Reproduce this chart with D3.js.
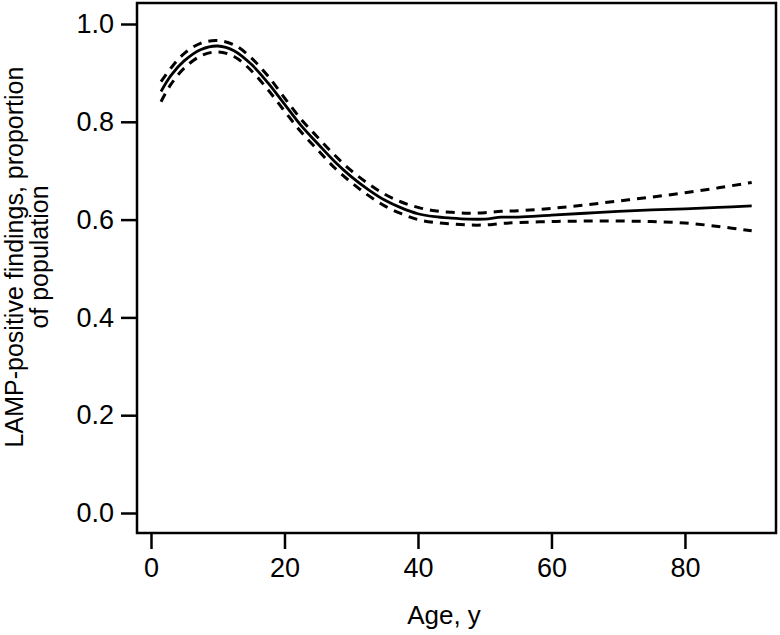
<!DOCTYPE html>
<html>
<head>
<script src="https://d3js.org/d3.v7.min.js"></script>
<style>
  body { margin: 0; background: #fff; }
  text { font-family: "Liberation Sans", Arial, sans-serif; fill: #000; }
</style>
</head>
<body>
<svg width="780" height="635"></svg>
<script>
// age in years
var ages  = [1.5, 3, 5, 7.5, 10, 12.5, 15, 17.5, 20, 22.5, 25, 27.5, 30, 32.5, 35, 37.5, 40, 42.5, 45, 47.5, 50, 52.5, 55, 60, 65, 70, 75, 80, 85, 90];
// fitted proportion
var fit   = [0.862, 0.895, 0.925, 0.948, 0.955, 0.945, 0.918, 0.880, 0.836, 0.792, 0.755, 0.719, 0.688, 0.662, 0.640, 0.624, 0.612, 0.606, 0.603, 0.601, 0.601, 0.605, 0.605, 0.609, 0.613, 0.617, 0.620, 0.622, 0.625, 0.628];
// confidence band
var upper = [0.882, 0.910, 0.940, 0.961, 0.966, 0.957, 0.931, 0.894, 0.849, 0.805, 0.768, 0.732, 0.700, 0.674, 0.652, 0.636, 0.625, 0.618, 0.615, 0.613, 0.614, 0.617, 0.618, 0.623, 0.630, 0.638, 0.646, 0.655, 0.665, 0.676];
var lower = [0.841, 0.877, 0.910, 0.935, 0.943, 0.933, 0.905, 0.866, 0.822, 0.779, 0.742, 0.706, 0.676, 0.650, 0.628, 0.612, 0.600, 0.594, 0.591, 0.589, 0.589, 0.592, 0.594, 0.596, 0.597, 0.597, 0.596, 0.593, 0.586, 0.577];

var xTicks = [0, 20, 40, 60, 80];
var yTicks = [0.0, 0.2, 0.4, 0.6, 0.8, 1.0];

var svg = d3.select("svg");
var box = {left: 137, top: 3, right: 776, bottom: 533};

var x = d3.scaleLinear().domain([0, 90]).range([151, 751.7]);
var y = d3.scaleLinear().domain([0, 1]).range([513, 24]);

// frame
svg.append("rect")
  .attr("x", box.left).attr("y", box.top)
  .attr("width", box.right - box.left).attr("height", box.bottom - box.top)
  .attr("fill", "none").attr("stroke", "#000").attr("stroke-width", 2.5);

/** axes, R style: ticks outside, no domain line **/
var xaxis = d3.axisBottom(x).tickValues(xTicks).tickSize(16).tickPadding(9).tickFormat(d3.format("d"));
var yaxis = d3.axisLeft(y).tickValues(yTicks).tickSize(16).tickPadding(7).tickFormat(d3.format(".1f"));

function styleAxis(g) {
  g.select(".domain").remove();
  g.selectAll("line").attr("stroke", "#000").attr("stroke-width", 2.5);
  g.selectAll("text")
    .style("font-size", "27px")
    .style("font-family", "Liberation Sans, Arial, sans-serif")
    .attr("fill", "#000");
}

svg.append("g")
  .attr("transform", "translate(0," + box.bottom + ")")
  .call(xaxis).call(styleAxis);

svg.append("g")
  .attr("transform", "translate(" + box.left + ",0)")
  .call(yaxis).call(styleAxis);

// curves
var pts = function(vals) { return ages.map(function(a, i) { return [a, vals[i]]; }); };
var line = d3.line()
  .x(function(d) { return x(d[0]); })
  .y(function(d) { return y(d[1]); })
  .curve(d3.curveCatmullRom.alpha(0.5));

svg.append("path").datum(pts(upper)).attr("d", line)
  .attr("fill", "none").attr("stroke", "#000").attr("stroke-width", 3).attr("stroke-dasharray", "9,7");
svg.append("path").datum(pts(lower)).attr("d", line)
  .attr("fill", "none").attr("stroke", "#000").attr("stroke-width", 3).attr("stroke-dasharray", "9,7");
svg.append("path").datum(pts(fit)).attr("d", line)
  .attr("fill", "none").attr("stroke", "#000").attr("stroke-width", 2.8);

// axis titles
svg.append("text")
  .attr("x", 444).attr("y", 624)
  .attr("text-anchor", "middle")
  .style("font-size", "26px")
  .text("Age, y");

var yt = svg.append("text")
  .attr("transform", "translate(23,257) rotate(-90)")
  .attr("text-anchor", "middle")
  .style("font-size", "25px");
yt.append("tspan").attr("x", 0).attr("y", 0).text("LAMP-positive findings, proportion");
yt.append("tspan").attr("x", 0).attr("y", 25).text("of population");
</script>
</body>
</html>
